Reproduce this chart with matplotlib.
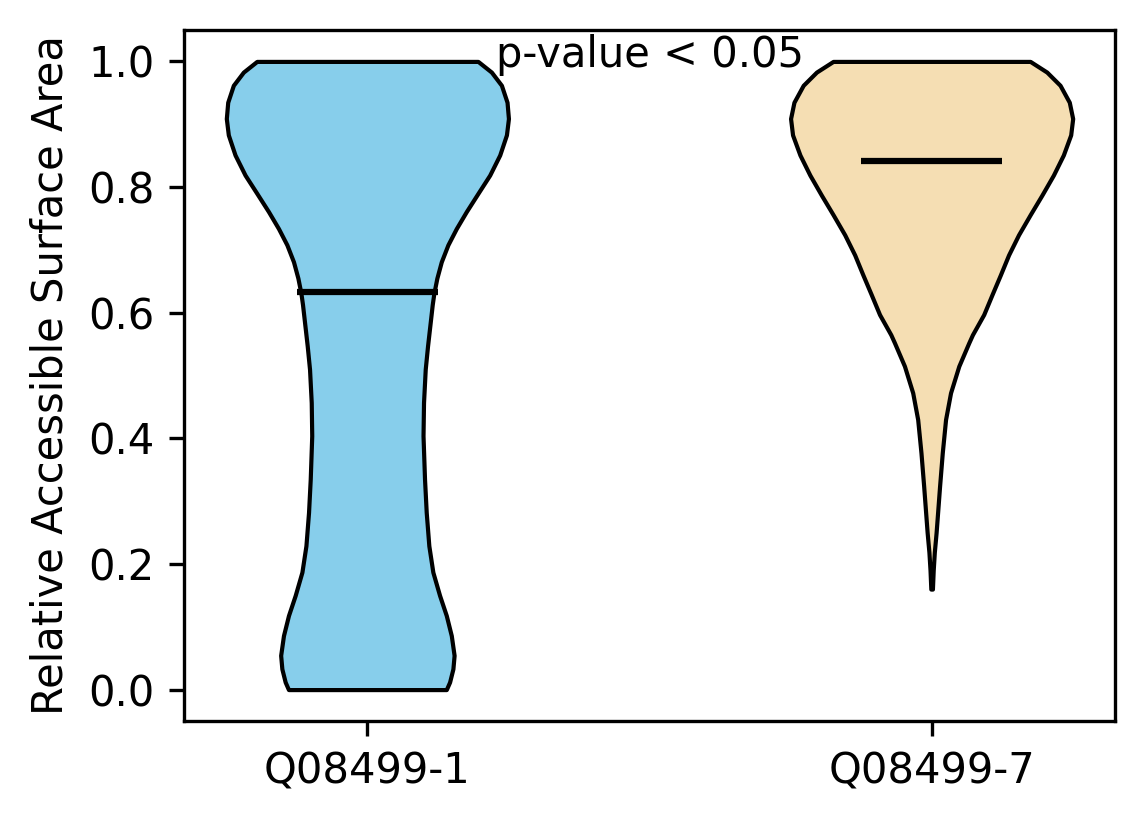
#!/usr/bin/env python3

import numpy as np
from matplotlib import pyplot as plt

# %% values (density profile = half width of each violin)
labels = ["Q08499-1", "Q08499-7"]
colors = ["skyblue", "wheat"]

rsa_1 = [0.000, 0.012, 0.033, 0.0545, 0.086, 0.118, 0.150, 0.187, 0.229,
         0.282, 0.335, 0.404, 0.457, 0.510, 0.547, 0.613, 0.631, 0.655,
         0.681, 0.708, 0.734, 0.761, 0.790, 0.819, 0.851, 0.883, 0.909,
         0.935, 0.962, 0.983, 1.000]
dens_1 = [78.7, 82.0, 85.3, 86.5, 83.7, 78.7, 72.0, 65.3, 61.3,
          58.7, 57.0, 55.5, 56.0, 57.7, 60.0, 64.7, 66.3, 69.3,
          73.7, 80.3, 88.7, 98.7, 110.3, 122.0, 132.0, 138.7, 140.7,
          139.3, 133.7, 123.7, 110.3]

rsa_2 = [0.160, 0.190, 0.2185, 0.250, 0.271, 0.324, 0.377, 0.430, 0.4725,
         0.515, 0.552, 0.565, 0.597, 0.629, 0.660, 0.692, 0.724, 0.756,
         0.787, 0.819, 0.851, 0.883, 0.909, 0.935, 0.962, 0.983, 1.000]
dens_2 = [0.8, 1.6, 2.7, 4.5, 5.5, 8.0, 10.7, 14.0, 19.0,
          27.3, 37.3, 41.0, 52.3, 60.7, 69.0, 77.3, 87.3, 99.0,
          110.7, 122.3, 132.3, 139.7, 141.7, 138.3, 129.0, 115.7, 99.0]

medians = [0.633, 0.842]
means = [0.60, 0.80]

# %% build stats for ax.violin
vpstats = []
for c, d, med, mn in zip([rsa_1, rsa_2], [dens_1, dens_2], medians, means):
    c = np.array(c)
    vpstats.append({
        "coords": c,
        "vals": np.array(d),
        "mean": mn,
        "median": med,
        "min": c.min(),
        "max": c.max(),
    })

# %% plot
fig = plt.figure(figsize=(1144 / 300, 824 / 300), dpi=300)
ax = fig.add_axes([184 / 1144, 1 - 721 / 824, (1115 - 184) / 1144, (721 - 30) / 824])

parts = ax.violin(vpstats, positions=[1, 2], widths=0.5,
                  showmeans=False, showextrema=False, showmedians=True)
for body, col in zip(parts["bodies"], colors):
    body.set_facecolor(col)
    body.set_edgecolor("black")
    body.set_linewidth(1)
    body.set_alpha(1)
parts["cmedians"].set_color("black")
parts["cmedians"].set_linewidth(1.5)

ax.set_xticks([1, 2])
ax.set_xticklabels(labels)
ax.set_ylabel("Relative Accessible Surface Area")
ax.text(1.5, 1.01, "p-value < 0.05", ha="center", va="center")

plt.savefig("out.png", dpi=300)
